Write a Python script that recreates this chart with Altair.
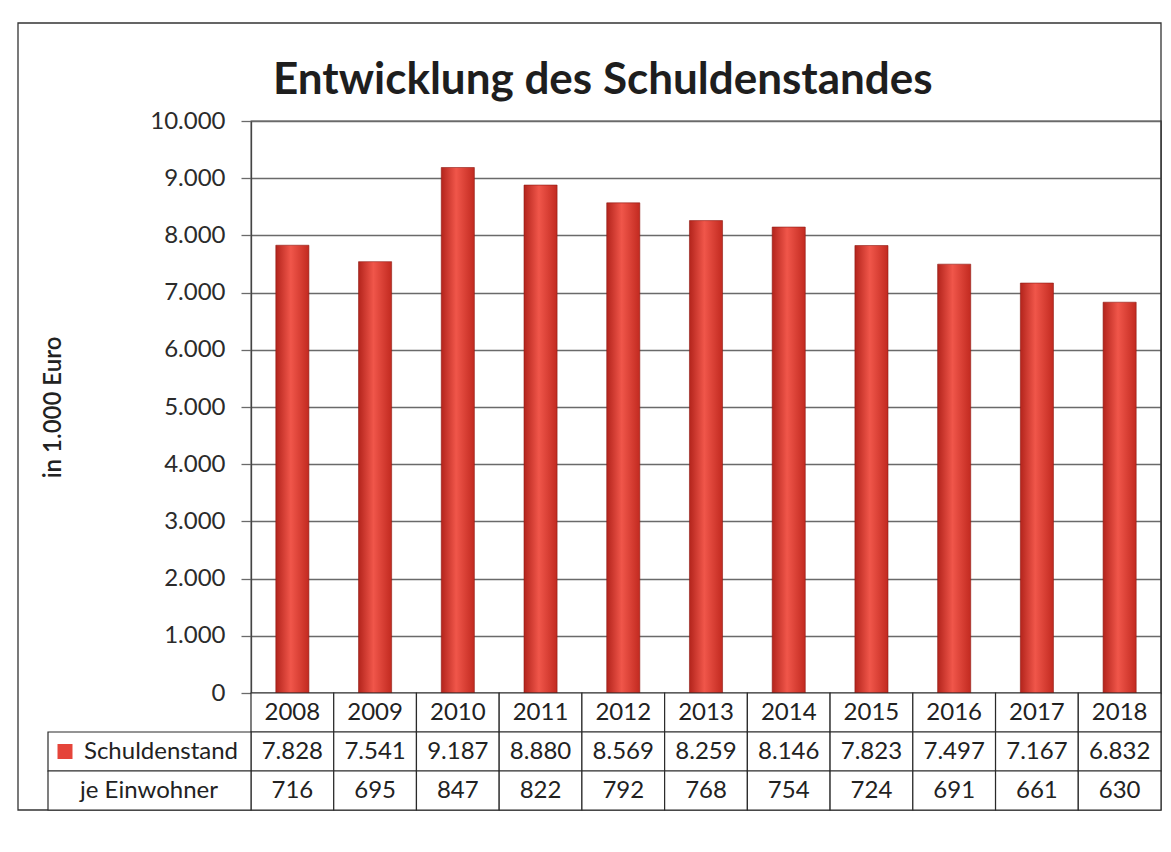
import altair as alt
import pandas as pd

# ---- data ----
years = ["2008", "2009", "2010", "2011", "2012", "2013", "2014", "2015", "2016", "2017", "2018"]
schulden = [7828, 7541, 9187, 8880, 8569, 8259, 8146, 7823, 7497, 7167, 6832]
einwohner = [716, 695, 847, 822, 792, 768, 754, 724, 691, 661, 630]
row_names = ["Jahr", "Schuldenstand", "je Einwohner"]
header_rows = ["Schuldenstand", "je Einwohner"]
y_ticks = [0, 1000, 2000, 3000, 4000, 5000, 6000, 7000, 8000, 9000, 10000]


def de(n):
    return f"{n:,}".replace(",", ".")


bar_df = pd.DataFrame({"Jahr": years, "Schuldenstand": schulden})
cells = []
for yr, s, e in zip(years, schulden, einwohner):
    cells.append({"Jahr": yr, "Zeile": "Jahr", "Text": yr})
    cells.append({"Jahr": yr, "Zeile": "Schuldenstand", "Text": de(s)})
    cells.append({"Jahr": yr, "Zeile": "je Einwohner", "Text": de(e)})
cell_df = pd.DataFrame(cells)
head_df = pd.DataFrame({"Zeile": header_rows})
frame_df = pd.DataFrame({"Rahmen": ["Diagramm"]})

FONT = "Lato"
W = 910
H = 572
TH = 117
RED = "#e5443a"
LINE = "#2a2a2a"
GRID = "#6a6a6a"

grad = alt.Gradient(
    gradient="linear",
    stops=[
        alt.GradientStop(offset=0, color="#b3241c"),
        alt.GradientStop(offset=0.45, color="#f0564a"),
        alt.GradientStop(offset=1, color="#c22a20"),
    ],
    x1=0, x2=1, y1=0, y2=0,
)

bars = alt.Chart(bar_df).mark_bar(color=grad, stroke="#8e1a12", strokeWidth=0.6).encode(
    x=alt.X("Jahr:N", sort=years,
            scale=alt.Scale(domain=years, paddingInner=0.6, paddingOuter=0.3),
            axis=None),
    y=alt.Y("Schuldenstand:Q",
            scale=alt.Scale(domain=[0, 10000], nice=False),
            axis=alt.Axis(values=y_ticks,
                          labelExpr="replace(format(datum.value, ','), ',', '.')",
                          title="in 1.000 Euro", grid=True, gridColor=GRID,
                          gridWidth=1.3, ticks=True, tickSize=10, tickColor=GRID,
                          tickWidth=1.3, domain=True, domainColor="#444", domainWidth=1.3,
                          labelFontSize=24, labelColor="#2b2b2b", labelPadding=16,
                          labelFont=FONT, titleFont=FONT, titleFontSize=24,
                          titleFontWeight=600, titleColor="#222", titlePadding=84)),
).properties(
    width=W, height=H,
    view=alt.ViewBackground(stroke="#444", strokeWidth=1.3),
    title=alt.TitleParams("Entwicklung des Schuldenstandes", anchor="start", frame="group",
                          dx=22, fontSize=44, font=FONT, fontWeight="bold",
                          color="#1e1e1e", offset=6),
)

xs = alt.X("Jahr:N", sort=years,
           scale=alt.Scale(domain=years, paddingInner=0, paddingOuter=0), axis=None)
ys = alt.Y("Zeile:N", scale=alt.Scale(domain=row_names, paddingInner=0, paddingOuter=0),
           axis=None)

frame = alt.Chart(frame_df).mark_rect(fill=None, stroke="#333", strokeWidth=1.3).encode(
    x=alt.value(-233), x2=alt.value(W), y=alt.value(-(H + 98)), y2=alt.value(TH))
cell_rect = alt.Chart(cell_df).mark_rect(fill="white", stroke=LINE, strokeWidth=1.2).encode(
    x=xs, y=ys)
cell_text = alt.Chart(cell_df).mark_text(fontSize=24, font=FONT, color="#222").encode(
    x=xs, y=ys, text="Text:N")
head_rect = alt.Chart(head_df).mark_rect(fill="white", stroke=LINE, strokeWidth=1.2).encode(
    x=alt.value(-203), x2=alt.value(0), y=ys)
head_text1 = alt.Chart(head_df).mark_text(fontSize=24, font=FONT, color="#222").transform_filter(
    "datum.Zeile == 'Schuldenstand'").encode(x=alt.value(-90), y=ys, text="Zeile:N")
head_text2 = alt.Chart(head_df).mark_text(fontSize=24, font=FONT, color="#222").transform_filter(
    "datum.Zeile == 'je Einwohner'").encode(x=alt.value(-102), y=ys, text="Zeile:N")
head_square = alt.Chart(head_df).mark_square(size=225, color=RED, opacity=1).transform_filter(
    "datum.Zeile == 'Schuldenstand'").encode(x=alt.value(-186), y=ys)

table = alt.layer(frame, cell_rect, cell_text, head_rect, head_text1, head_text2,
                  head_square).properties(width=W, height=TH)

chart = alt.vconcat(bars, table, spacing=0, bounds="flush").properties(
    padding={"left": 9, "top": 14, "right": 0, "bottom": 10},
    background="white",
).configure_view(stroke=None)

chart.save("out.html", embed_options={"renderer": "svg", "actions": False})
